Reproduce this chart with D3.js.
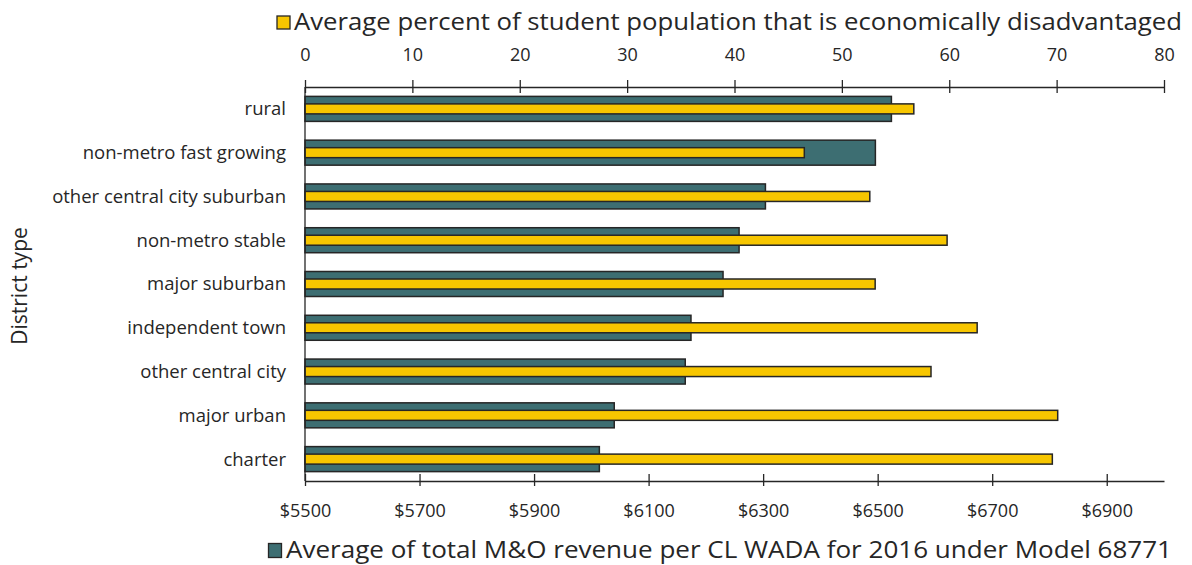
<!DOCTYPE html>
<html>
<head>
<meta charset="utf-8">
<script src="https://cdn.jsdelivr.net/npm/d3@7"></script>
<style>
  body { margin: 0; background: #fff; }
  text { font-family: "Open Sans", sans-serif; fill: #262626; }
</style>
</head>
<body>
<svg id="chart" width="1192" height="565"></svg>
<script>
var districts = ["rural", "non-metro fast growing", "other central city suburban", "non-metro stable",
                 "major suburban", "independent town", "other central city", "major urban", "charter"];
var revenue = [6524, 6496, 6304, 6258, 6230, 6174, 6164, 6040, 6014];
var pctDisadvantaged = [56.7, 46.5, 52.6, 59.8, 53.1, 62.6, 58.3, 70.1, 69.6];
var revenueTicks = [5500, 5700, 5900, 6100, 6300, 6500, 6700, 6900];
var pctTicks = [0, 10, 20, 30, 40, 50, 60, 70, 80];
var revenueLabel = "Average of total M&O revenue per CL WADA for 2016 under Model 68771";
var pctLabel = "Average percent of student population that is economically disadvantaged";

var tealColor = "#3d6e72";
var yellowColor = "#f7c600";
var edge = "#262626";

var svg = d3.select("#chart");
var plotLeft = 305, plotRight = 1164, plotTop = 87, plotBottom = 481;

var y = d3.scaleBand().domain(districts).range([plotTop, plotBottom]);
var xRev = d3.scaleLinear().domain([5500, 7000]).range([plotLeft, plotRight]);
var xPct = d3.scaleLinear().domain([0, 80]).range([plotLeft, plotRight]);

// teal bars
svg.selectAll("rect.rev").data(districts).enter().append("rect")
	.attr("class", "rev")
	.attr("x", xRev(5500))
	.attr("y", function(d){ return y(d) + y.bandwidth() / 2 - 12.5; })
	.attr("width", function(d, i){ return xRev(revenue[i]) - xRev(5500); })
	.attr("height", 25)
	.attr("fill", tealColor)
	.attr("stroke", edge)
	.attr("stroke-width", 1.5);

// yellow bars
svg.selectAll("rect.pct").data(districts).enter().append("rect")
	.attr("class", "pct")
	.attr("x", xPct(0))
	.attr("y", function(d){ return y(d) + y.bandwidth() / 2 - 5; })
	.attr("width", function(d, i){ return xPct(pctDisadvantaged[i]) - xPct(0); })
	.attr("height", 10)
	.attr("fill", yellowColor)
	.attr("stroke", edge)
	.attr("stroke-width", 1.5);

// top axis
var topAxis = svg.append("g").attr("transform", "translate(0," + plotTop + ")")
	.call(d3.axisTop(xPct).tickValues(pctTicks).tickSizeInner(6).tickSizeOuter(0).tickPadding(20));
topAxis.selectAll(".tick line").attr("y1", 6).attr("y2", -7);

// bottom axis
var bottomAxis = svg.append("g").attr("transform", "translate(0," + plotBottom + ")")
	.call(d3.axisBottom(xRev).tickValues(revenueTicks).tickFormat(function(d){ return "$" + d; })
		.tickSizeInner(6).tickSizeOuter(0).tickPadding(17));
bottomAxis.selectAll(".tick line").attr("y1", -7).attr("y2", 5);

svg.selectAll(".domain").attr("stroke", edge).attr("stroke-width", 1.3);
svg.selectAll(".tick line").attr("stroke", edge).attr("stroke-width", 1.3);
svg.selectAll(".tick text").attr("font-size", 18).attr("font-family", "Open Sans").attr("fill", "#262626");

// left axis line
svg.append("line")
	.attr("x1", plotLeft).attr("x2", plotLeft)
	.attr("y1", plotTop).attr("y2", plotBottom)
	.attr("stroke", edge).attr("stroke-width", 1.3);

// category labels
svg.selectAll("text.cat").data(districts).enter().append("text")
	.attr("class", "cat")
	.attr("x", 286)
	.attr("y", function(d){ return y(d) + y.bandwidth() / 2; })
	.attr("dy", "0.35em")
	.attr("text-anchor", "end")
	.attr("font-size", 18.5)
	.text(function(d){ return d; });

// y title
svg.append("text")
	.attr("transform", "translate(27,286) rotate(-90)")
	.attr("text-anchor", "middle")
	.attr("font-size", 21)
	.text("District type");

// legends
svg.append("rect").attr("x", 277).attr("y", 16).attr("width", 13).attr("height", 13)
	.attr("fill", yellowColor).attr("stroke", edge).attr("stroke-width", 1.3);
svg.append("text").attr("x", 294).attr("y", 30).attr("font-size", 23)
	.attr("textLength", 888).attr("lengthAdjust", "spacingAndGlyphs")
	.text(pctLabel);

svg.append("rect").attr("x", 268.5).attr("y", 543.5).attr("width", 13).attr("height", 14)
	.attr("fill", tealColor).attr("stroke", edge).attr("stroke-width", 1.3);
svg.append("text").attr("x", 286).attr("y", 558).attr("font-size", 23)
	.attr("textLength", 886).attr("lengthAdjust", "spacingAndGlyphs")
	.text(revenueLabel);
</script>
</body>
</html>
